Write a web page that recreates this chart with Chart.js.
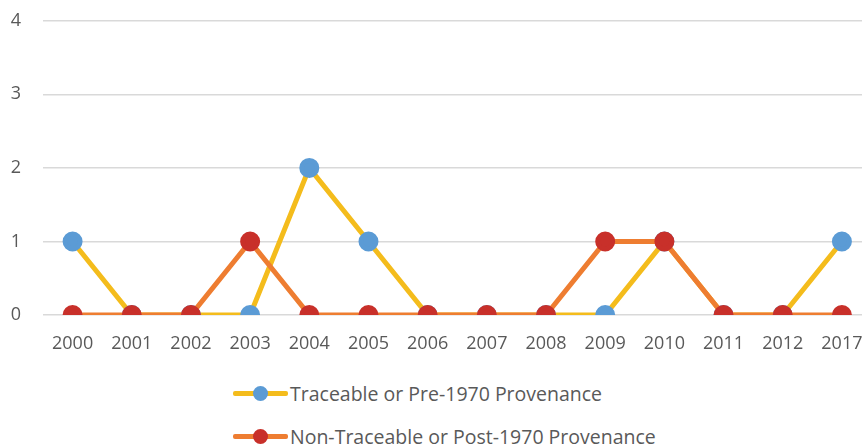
<!DOCTYPE html>
<html>
<head>
<meta charset="utf-8">
<script src="https://cdn.jsdelivr.net/npm/chart.js@4"></script>
<style>
  html, body { margin: 0; padding: 0; background: #fff; overflow: hidden; }
  #wrap { position: relative; width: 862px; height: 448px; overflow: hidden; }
  #box { position: absolute; left: 0; top: -12px; width: 884px; height: 377px; }
  .legend { position: absolute; left: 233px; font-family: "Open Sans", sans-serif; font-size: 19.5px; color: #595959; }
  .item { position: absolute; left: 0; height: 22px; white-space: nowrap; display: flex; align-items: center; }
  .mark { position: relative; width: 55px; height: 22px; margin-right: 2px; }
  .mark .ln { position: absolute; left: 0; top: 9px; width: 55px; height: 5px; border-radius: 2px; }
  .mark .pt { position: absolute; left: 20px; top: 3.5px; width: 15px; height: 15px; border-radius: 50%; }
</style>
</head>
<body>
<div id="wrap">
  <div id="box"><canvas id="provenance-chart"></canvas></div>
  <div class="legend" id="legend"></div>
</div>
<script>
const years = ['2000', '2001', '2002', '2003', '2004', '2005', '2006', '2007', '2008', '2009', '2010', '2011', '2012', '2017'];
const traceable = [1, 0, 0, 0, 2, 1, 0, 0, 0, 0, 1, 0, 0, 1];
const nonTraceable = [0, 0, 0, 1, 0, 0, 0, 0, 0, 1, 1, 0, 0, 0];
const yTicks = [0, 1, 2, 3, 4];

const seriesNames = ['Traceable or Pre-1970 Provenance', 'Non-Traceable or Post-1970 Provenance'];

function drawChart() {
    let ctx = document.getElementById('provenance-chart');

    let data = {
        labels: years,
        datasets: [{
            label: seriesNames[0],
            data: traceable,
            borderColor: '#F4BC1C',
            backgroundColor: '#5B9BD5',
            pointBackgroundColor: '#5B9BD5',
            pointBorderColor: '#5B9BD5',
            borderWidth: 5,
            pointRadius: 7.5,
            pointHoverRadius: 7.5,
            tension: 0,
            order: 2
        }, {
            label: seriesNames[1],
            data: nonTraceable,
            borderColor: '#EE7D31',
            backgroundColor: '#C8302A',
            pointBackgroundColor: '#C8302A',
            pointBorderColor: '#C8302A',
            borderWidth: 5,
            pointRadius: 7.5,
            pointHoverRadius: 7.5,
            tension: 0,
            order: 1
        }]
    };

    new Chart(ctx, {
        type: 'line',
        data: data,
        options: {
            responsive: true,
            maintainAspectRatio: false,
            animation: false,
            layout: { padding: { top: 9, right: 0, left: 0, bottom: 0 } },
            plugins: {
                legend: { display: false },
                tooltip: { enabled: false }
            },
            scales: {
                x: {
                    offset: true,
                    grid: { display: false, drawTicks: false },
                    border: { display: false },
                    ticks: {
                        padding: 18,
                        maxRotation: 0,
                        autoSkip: false,
                        color: '#595959',
                        font: { family: 'Open Sans', size: 18 }
                    },
                    afterFit: function (axis) { axis.height = 50; }
                },
                y: {
                    min: 0,
                    max: 4,
                    afterBuildTicks: function (axis) {
                        axis.ticks = yTicks.map(v => ({ value: v }));
                    },
                    grid: { color: '#D9D9D9', lineWidth: 1.5, drawTicks: false },
                    border: { display: false },
                    ticks: {
                        padding: 22,
                        color: '#595959',
                        font: { family: 'Open Sans', size: 18 }
                    },
                    afterFit: function (axis) { axis.width = 43; }
                }
            }
        }
    });

    // legend below the chart, one row per series
    let legend = document.getElementById('legend');
    let rowsTop = [382, 425];
    data.datasets.forEach(function (ds, i) {
        let item = document.createElement('div');
        item.className = 'item';
        item.style.top = rowsTop[i] + 'px';
        item.innerHTML = '<span class="mark"><span class="ln" style="background:' + ds.borderColor +
            '"></span><span class="pt" style="background:' + ds.pointBackgroundColor + '"></span></span>' +
            '<span>' + ds.label + '</span>';
        legend.appendChild(item);
    });
}

drawChart();
</script>
</body>
</html>
